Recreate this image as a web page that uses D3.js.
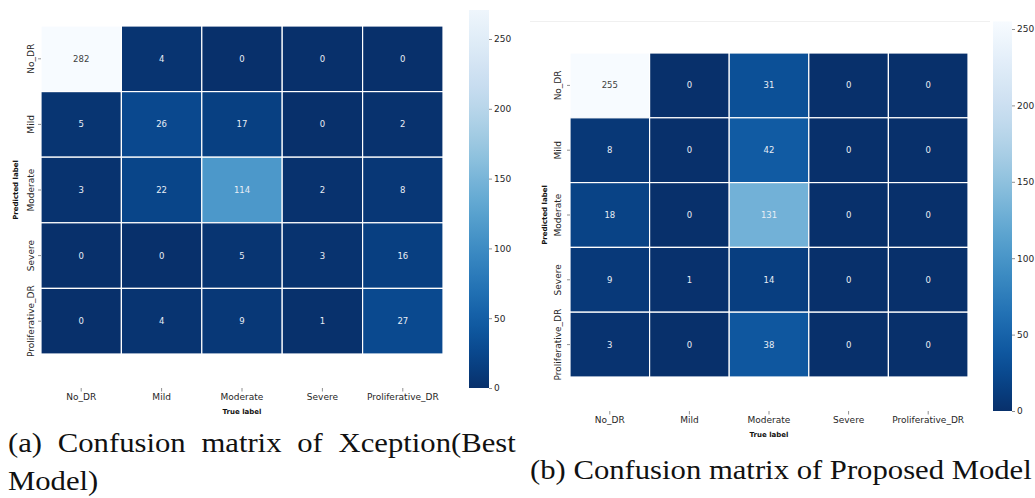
<!DOCTYPE html>
<html>
<head>
<meta charset="utf-8">
<script src="https://cdn.jsdelivr.net/npm/d3@7"></script>
<style>
  html, body { margin: 0; padding: 0; background: #fff; }
  svg { display: block; }
</style>
</head>
<body>
<svg id="chart" width="1035" height="498"></svg>
<script>
// ---------------- DATA ----------------
const categories = ["No_DR", "Mild", "Moderate", "Severe", "Proliferative_DR"];
// rows = predicted label, columns = true label
const xceptionMatrix = [
  [282, 4, 0, 0, 0],
  [5, 26, 17, 0, 2],
  [3, 22, 114, 2, 8],
  [0, 0, 5, 3, 16],
  [0, 4, 9, 1, 27]
];
const proposedMatrix = [
  [255, 0, 31, 0, 0],
  [8, 0, 42, 0, 0],
  [18, 0, 131, 0, 0],
  [9, 1, 14, 0, 0],
  [3, 0, 38, 0, 0]
];
const colorbarTicks = [0, 50, 100, 150, 200, 250];
const captionA = ["(a) Confusion matrix of Xception(Best", "Model)"];
const captionB = "(b) Confusion matrix of Proposed Model";
const xAxisTitle = "True label";
const yAxisTitle = "Predicted label";

// ---------------- LAYOUT ----------------
const panels = [
  { matrix: xceptionMatrix, x0: 41, x1: 443, y0: 26, y1: 354,
    yLabelX: 34, predX: 17.5, xTickY: 388, trueY: 414,
    cbX: 469, cbW: 20, cbZeroY: 388, cb250Y: 39, cbTop: 10 },
  { matrix: proposedMatrix, x0: 570, x1: 968, y0: 53, y1: 377,
    yLabelX: 561, predX: 547, xTickY: 411, trueY: 437,
    cbX: 993, cbW: 19, cbZeroY: 411, cb250Y: 29, cbTop: 21.4 }
];

const svg = d3.select("#chart");
const defs = svg.append("defs");
const sansFont = "DejaVu Sans, Verdana, sans-serif";

function luminance(c) {
  const rgb = d3.rgb(c);
  const f = v => { v /= 255; return v <= 0.03928 ? v / 12.92 : Math.pow((v + 0.055) / 1.055, 2.4); };
  return 0.2126 * f(rgb.r) + 0.7152 * f(rgb.g) + 0.0722 * f(rgb.b);
}

// faint frame line of the right figure
svg.append("line").attr("x1", 530).attr("x2", 990).attr("y1", 21.5).attr("y2", 21.5)
  .attr("stroke", "#f0f0f0").attr("stroke-width", 1);

panels.forEach((p, pi) => {
  const vmax = d3.max(p.matrix.flat());
  const color = d3.scaleSequential(t => d3.interpolateBlues(1 - t)).domain([0, vmax]);

  const x = d3.scaleBand().domain(categories).range([p.x0, p.x1]).padding(0);
  const y = d3.scaleBand().domain(categories).range([p.y0, p.y1]).padding(0);

  const cells = [];
  p.matrix.forEach((row, ri) => row.forEach((v, ci) => cells.push({ r: categories[ri], c: categories[ci], v })));

  const g = svg.append("g");
  g.selectAll("rect.cell").data(cells).join("rect")
    .attr("class", "cell")
    .attr("x", d => x(d.c))
    .attr("y", d => y(d.r))
    .attr("width", x.bandwidth())
    .attr("height", y.bandwidth())
    .attr("fill", d => color(d.v))
    .attr("stroke", "#ffffff")
    .attr("stroke-width", 1.2);

  g.selectAll("text.annot").data(cells).join("text")
    .attr("class", "annot")
    .attr("x", d => x(d.c) + x.bandwidth() / 2)
    .attr("y", d => y(d.r) + y.bandwidth() / 2)
    .attr("text-anchor", "middle")
    .attr("dominant-baseline", "central")
    .attr("font-family", sansFont)
    .attr("font-size", 8.5)
    .attr("fill", d => luminance(color(d.v)) > 0.408 ? "#404040" : "#e8eef6")
    .text(d => d.v);

  // x axis (True label)
  const xAxis = svg.append("g")
    .attr("transform", `translate(0,${p.xTickY})`)
    .call(d3.axisBottom(x).tickSize(3.5).tickPadding(2.5));
  xAxis.select(".domain").remove();
  xAxis.selectAll("line").attr("stroke", "#444").attr("stroke-width", 0.6);
  xAxis.selectAll("text").attr("font-family", sansFont).attr("font-size", 9).attr("fill", "#262626");

  svg.append("text")
    .attr("x", (p.x0 + p.x1) / 2).attr("y", p.trueY)
    .attr("text-anchor", "middle")
    .attr("font-family", sansFont).attr("font-size", 7).attr("font-weight", "bold").attr("fill", "#111")
    .text(xAxisTitle);

  // y axis (Predicted label)
  const yAxis = svg.append("g")
    .attr("transform", `translate(${p.x0},0)`)
    .call(d3.axisLeft(y).tickSize(3).tickPadding(3));
  yAxis.select(".domain").remove();
  yAxis.selectAll("line").attr("stroke", "#444").attr("stroke-width", 0.6);
  yAxis.selectAll("text")
    .attr("x", 0).attr("dy", null)
    .attr("text-anchor", "middle")
    .attr("transform", `translate(${p.yLabelX - p.x0},0) rotate(-90)`)
    .attr("font-family", sansFont).attr("font-size", 9).attr("fill", "#262626");

  const cy = (p.y0 + p.y1) / 2;
  svg.append("text")
    .attr("transform", `translate(${p.predX},${cy}) rotate(-90)`)
    .attr("text-anchor", "middle")
    .attr("font-family", sansFont).attr("font-size", 7).attr("font-weight", "bold").attr("fill", "#111")
    .text(yAxisTitle);

  // colorbar
  const cbScale = d3.scaleLinear().domain([0, 250]).range([p.cbZeroY, p.cb250Y]);
  const topVal = Math.min(vmax, cbScale.invert(p.cbTop));
  const gradId = "cbgrad" + pi;
  const grad = defs.append("linearGradient").attr("id", gradId)
    .attr("x1", 0).attr("x2", 0).attr("y1", 1).attr("y2", 0);
  d3.range(0, 1.0001, 0.05).forEach(t => {
    grad.append("stop").attr("offset", t).attr("stop-color", color(t * topVal));
  });
  svg.append("rect")
    .attr("x", p.cbX).attr("y", cbScale(topVal))
    .attr("width", p.cbW).attr("height", cbScale(0) - cbScale(topVal))
    .attr("fill", `url(#${gradId})`);
  const cbAxis = svg.append("g")
    .attr("transform", `translate(${p.cbX + p.cbW},0)`)
    .call(d3.axisRight(cbScale).tickValues(colorbarTicks).tickSize(3).tickPadding(2));
  cbAxis.select(".domain").remove();
  cbAxis.selectAll("line").attr("stroke", "#444").attr("stroke-width", 0.6);
  cbAxis.selectAll("text").attr("font-family", sansFont).attr("font-size", 9).attr("fill", "#262626");
});

// ---------------- CAPTIONS ----------------
const serif = "Liberation Serif, Times New Roman, serif";
const capSize = 28;
function capText(x, y, str) {
  return svg.append("text")
    .attr("x", 0).attr("y", 0)
    .attr("font-family", serif).attr("font-size", capSize).attr("fill", "#111")
    .attr("data-x", x).attr("data-y", y)
    .text(str);
}
const capB = capText(530, 479, captionB);
const natB = capB.node().getComputedTextLength();
const sx = 502 / natB;   // widen glyphs like the Computer Modern face
capB.attr("transform", `translate(530,479) scale(${sx},1)`);

const capA1 = capText(8, 452, captionA[0]);
const natA = capA1.node().getComputedTextLength();
const spaces = (captionA[0].match(/ /g) || []).length;
capA1.attr("word-spacing", Math.max(0, (508 / sx - natA) / spaces))
  .attr("transform", `translate(8,452) scale(${sx},1)`);

capText(8, 490, captionA[1]).attr("transform", `translate(8,490) scale(${sx},1)`);
</script>
</body>
</html>
